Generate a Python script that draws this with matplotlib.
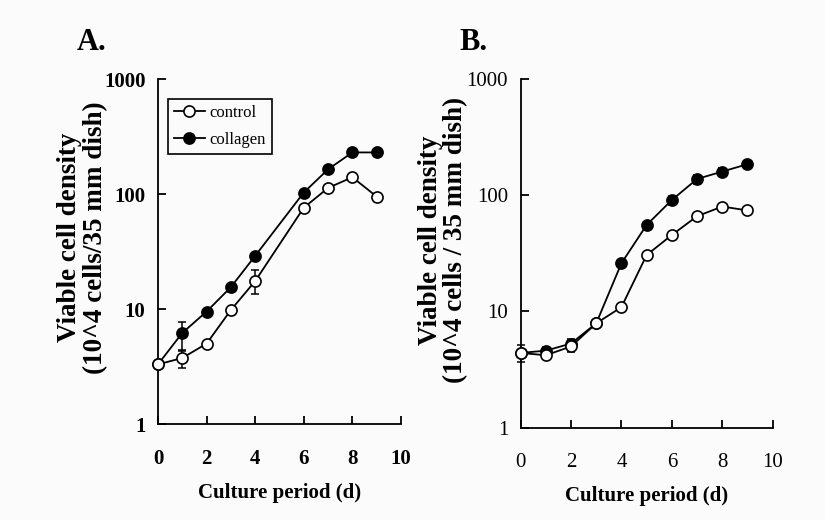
import numpy as np
import matplotlib
matplotlib.use("Agg")
import matplotlib.pyplot as plt

plt.rcParams['font.family'] = ['Liberation Serif', 'DejaVu Serif']

days = [0, 1, 2, 3, 4, 6, 7, 8, 9]
a_control = [3.3, 3.75, 5.0, 9.8, 17.5, 76, 113, 140, 95]
a_control_err_lo = [0, 0.65, 0.3, 0.5, 4.0, 0, 0, 0, 0]
a_control_err_hi = [0, 0.6, 0.3, 0.6, 4.3, 0, 0, 0, 0]
a_collagen = [3.3, 6.2, 9.5, 15.5, 29, 103, 164, 230, 230]
a_collagen_err_lo = [0, 1.8, 0, 1.3, 0, 0, 0, 0, 0]
a_collagen_err_hi = [0, 1.5, 0, 1.0, 0, 0, 0, 0, 0]

days_b = [0, 1, 2, 3, 4, 5, 6, 7, 8, 9]
b_control = [4.4, 4.2, 5.0, 7.9, 10.9, 30.6, 45.5, 66, 80, 74]
b_collagen = [4.4, 4.6, 5.3, 7.9, 26, 55.5, 91, 138, 160, 185]
b_collagen_err_lo = [0.7, 0.3, 0.8, 0.4, 2.0, 3.0, 8.0, 12, 12, 12]
b_collagen_err_hi = [0.75, 0.3, 0.5, 0.4, 2.0, 3.0, 8.0, 12, 12, 12]

fig = plt.figure(figsize=(8.25, 5.2), dpi=100, facecolor='#fbfbfb')
axA = fig.add_axes([0.1915, 0.1846, 0.2945, 0.6634])
axB = fig.add_axes([0.631, 0.1775, 0.3056, 0.6705])


def style(ax, bold):
    ax.set_facecolor('#fbfbfb')
    ax.set_yscale('log')
    ax.set_ylim(1, 1000)
    ax.set_xlim(0, 10)
    for s in ['top', 'right']:
        ax.spines[s].set_visible(False)
    for s in ['left', 'bottom']:
        ax.spines[s].set_linewidth(1.3)
    ax.set_xticks([0, 2, 4, 6, 8, 10])
    ax.set_yticks([1, 10, 100, 1000])
    ax.set_yticklabels(['1', '10', '100', '1000'])
    ax.minorticks_off()
    ax.tick_params(direction='in', length=6, width=1.3, labelsize=15)
    ax.tick_params(axis='y', pad=9)
    ax.tick_params(axis='x', pad=18)
    w = 'bold' if bold else 'normal'
    for t in ax.get_xticklabels() + ax.get_yticklabels():
        t.set_fontweight(w)
    ax.set_xlabel('Culture period (d)', fontsize=15, fontweight='bold', labelpad=10)


def plot_series(ax, x, y, lo, hi, filled, label=None):
    z = 3 if filled else 4
    ax.errorbar(x, y, yerr=[lo, hi], fmt='none', ecolor='black', capsize=3,
                capthick=1.1, elinewidth=1.1, clip_on=False, zorder=z)
    ax.plot(x, y, color='black', lw=1.3, marker='o', markersize=8,
            markerfacecolor='black' if filled else 'white',
            markeredgecolor='black', markeredgewidth=1.2,
            label=label, clip_on=False, zorder=z)


plot_series(axA, days, a_collagen, a_collagen_err_lo, a_collagen_err_hi, True, 'collagen')
plot_series(axA, days, a_control, a_control_err_lo, a_control_err_hi, False, 'control')
style(axA, True)
axA.set_ylabel('Viable cell density\n(10^4 cells/35 mm dish)', fontsize=19.5,
               fontweight='bold', linespacing=1.05)
axA.yaxis.set_label_coords(-0.205, 0.54)
h, l = axA.get_legend_handles_labels()
leg = axA.legend([h[1], h[0]], [l[1], l[0]], loc='upper left',
                 bbox_to_anchor=(0.04, 0.943), fontsize=12, frameon=True,
                 fancybox=False, edgecolor='black', handlelength=1.9,
                 borderpad=0.35, labelspacing=0.7, handletextpad=0.25,
                 borderaxespad=0)
leg.get_frame().set_linewidth(1.2)
leg.get_frame().set_facecolor('#fbfbfb')
leg.get_frame().set_alpha(1)

zero_b = [0] * len(days_b)
plot_series(axB, days_b, b_collagen, b_collagen_err_lo, b_collagen_err_hi, True)
plot_series(axB, days_b, b_control, zero_b, zero_b, False)
style(axB, False)
axB.set_ylabel('Viable cell density\n(10^4 cells / 35 mm dish)', fontsize=19.5,
               fontweight='bold', linespacing=1.0)
axB.yaxis.set_label_coords(-0.21, 0.538)

fig.text(0.093, 0.903, 'A.', fontsize=22, fontweight='bold')
fig.text(0.557, 0.903, 'B.', fontsize=22, fontweight='bold')

fig.savefig('out.png', dpi=100, facecolor=fig.get_facecolor())
